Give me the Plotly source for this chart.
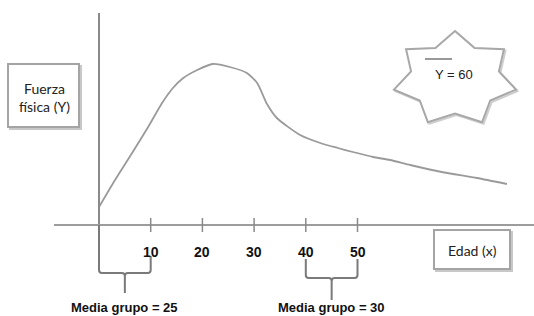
import math
import plotly.graph_objects as go

# ---------------- data ----------------
edad = [0, 3.1, 6.4, 9.5, 12.2, 14.3, 16.3, 19, 22, 25.3, 28.6, 30.6, 32.5, 34.4,
        38.9, 42.8, 46.2, 49.1, 53, 56.3, 60.2, 66.3, 73.1, 78.9]
fuerza = [18, 45, 72, 98, 122, 137, 147, 155, 161, 158, 152, 142, 121, 107,
          90, 82, 77, 73, 68, 65, 60, 53, 47, 41]
ticks = [10, 20, 30, 40, 50]
tick_labels = ["10", "20", "30", "40", "50"]
grupos = [(0, 10), (40, 50)]
grupo_labels = ["Media grupo = 25", "Media grupo = 30"]
media_total = "Y = 60"
y_label = "Fuerza<br>física (Y)"
x_label = "Edad (x)"

# ---------------- layout helpers (pixel <-> data) ----------------
W, H = 534, 316
A, S = 99.0, 5.17          # pixel of x=0, pixels per unit of age
Y0PX = 225.0               # pixel row of y=0


def X(px):
    return (px - A) / S


def Y(py):
    return Y0PX - py


def PX(x):
    return A + S * x


fig = go.Figure()
fig.add_trace(go.Scatter(x=edad, y=fuerza, mode="lines",
                         line=dict(color="#9a9a9a", width=1.8, shape="spline", smoothing=0.6),
                         hoverinfo="skip", showlegend=False))

shapes = []
AX = "#8a8a8a"
# vertical axis
shapes.append(dict(type="line", x0=0, x1=0, y0=Y(13), y1=Y(225), line=dict(color=AX, width=2)))
# horizontal axis
shapes.append(dict(type="line", x0=X(54), x1=X(W), y0=0, y1=0, line=dict(color="#9c9c9c", width=2)))
# tick marks
for t in ticks:
    shapes.append(dict(type="line", x0=t, x1=t, y0=Y(218), y1=Y(232), line=dict(color=AX, width=1.5)))


def P(px, py):
    return f"{X(px):.4f},{Y(py):.4f}"


def brace(xa, xb, ta, tb, by, sy):
    cx = (xa + xb) / 2
    d = (f"M {P(xa, ta)} L {P(xa, by - 3)} Q {P(xa, by)} {P(xa + 3, by)} "
         f"L {P(cx - 3, by)} Q {P(cx, by)} {P(cx, by + 3)} "
         f"M {P(xb, tb)} L {P(xb, by - 3)} Q {P(xb, by)} {P(xb - 3, by)} "
         f"L {P(cx + 3, by)} Q {P(cx, by)} {P(cx, by + 3)} L {P(cx, sy)}")
    return dict(type="path", path=d, line=dict(color="#7a7a7a", width=2))


shapes.append(brace(PX(grupos[0][0]), PX(grupos[0][1]), 225, 256, 273, 293))
shapes.append(brace(PX(grupos[1][0]), PX(grupos[1][1]), 259, 259, 278, 300))


def box(x0, y0, x1, y1):
    out = [dict(type="rect", x0=X(x0 + 2), x1=X(x1 + 2), y0=Y(y0 + 2), y1=Y(y1 + 2),
                line=dict(color="#c8c8c8", width=2), fillcolor="rgba(0,0,0,0)"),
           dict(type="rect", x0=X(x0), x1=X(x1), y0=Y(y0), y1=Y(y1),
                line=dict(color="#a4a4a4", width=2), fillcolor="white")]
    return out


shapes += box(8, 64, 79, 127)
shapes += box(434, 230, 510, 269)

# star
cx, cy, rx, ry, k = 455, 79, 62.6, 47.9, 0.72
pts = []
for i in range(14):
    ang = math.radians(90 - i * 360 / 14)
    f = 1 if i % 2 == 0 else k
    pts.append((cx + rx * f * math.cos(ang), cy - ry * f * math.sin(ang)))
star_shadow = "M " + " L ".join(P(px + 1.5, py + 1.5) for px, py in pts) + " Z"
star = "M " + " L ".join(P(px, py) for px, py in pts) + " Z"
shapes.append(dict(type="path", path=star_shadow, line=dict(color="#cfcfcf", width=2)))
shapes.append(dict(type="path", path=star, line=dict(color="#a8a8a8", width=2), fillcolor="white"))
shapes.append(dict(type="line", x0=X(425), x1=X(452), y0=Y(59), y1=Y(59), line=dict(color="#333", width=1)))

ann = []
for t, lab in zip(ticks, tick_labels):
    ann.append(dict(x=t, y=Y(252), text=f"<b>{lab}</b>", showarrow=False,
                    font=dict(family="Liberation Sans", size=14, color="#111")))
for (g0, g1), lab in zip(grupos, grupo_labels):
    ann.append(dict(x=(g0 + g1) / 2, y=Y(307), text=f"<b>{lab}</b>", showarrow=False,
                    font=dict(family="Liberation Sans", size=13, color="#111")))
ann.append(dict(x=X(44), y=Y(97), text=y_label, showarrow=False,
                font=dict(family="Lato", size=14, color="#222")))
ann.append(dict(x=X(472), y=Y(250), text=x_label, showarrow=False,
                font=dict(family="Lato", size=14, color="#222")))
ann.append(dict(x=X(454), y=Y(74), text=media_total, showarrow=False,
                font=dict(family="Liberation Sans", size=13, color="#222")))

fig.update_layout(
    width=W, height=H, margin=dict(l=0, r=0, t=0, b=0),
    paper_bgcolor="white", plot_bgcolor="white",
    xaxis=dict(range=[X(0), X(W)], visible=False, fixedrange=True),
    yaxis=dict(range=[Y(H), Y(0)], visible=False, fixedrange=True),
    shapes=shapes, annotations=ann, showlegend=False,
)
fig.write_html("out.html", config={"displayModeBar": False},
               post_script="document.body.style.margin='0';")
